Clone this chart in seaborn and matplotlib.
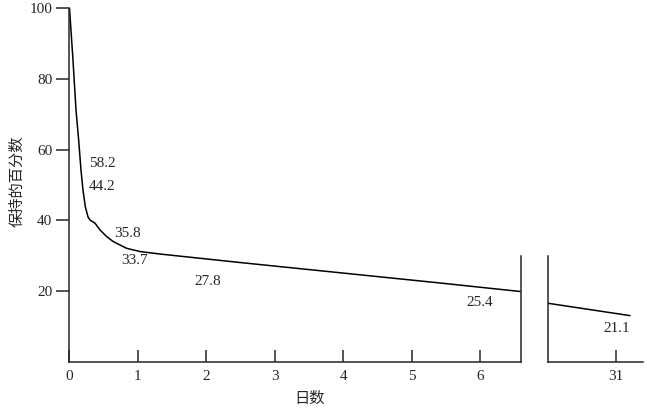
import matplotlib
matplotlib.use("Agg")
import matplotlib.pyplot as plt
import seaborn as sns

# ============================================================
# 数据
# ============================================================

# 第一段：0 ~ 6.6 天
days_a = [0, 0.051, 0.095, 0.134, 0.168, 0.197, 0.231, 0.27, 0.30, 0.373,
          0.446, 0.544, 0.64, 0.836, 1.03, 1.32, 2.49, 5.42, 6.59]
retain_a = [100, 85.3, 71.2, 62.7, 54.2, 48.6, 43.9, 41.0, 40.1, 39.2,
            37.3, 35.4, 34.0, 32.1, 31.2, 30.5, 28.1, 22.3, 19.9]

# 第二段：30 ~ 31.2 天
days_b = [30.0, 31.2]
retain_b = [16.6, 13.1]

# 标注文字及位置
labels_a = ["58.2", "44.2", "35.8", "33.7", "27.8", "25.4"]
label_x_a = [0.285, 0.285, 0.65, 0.75, 1.82, 5.80]
label_y_a = [56.2, 49.7, 36.4, 28.8, 22.7, 16.7]
labels_b = ["21.1"]
label_x_b = [30.81]
label_y_b = [9.6]

y_ticks = [20, 40, 60, 80, 100]
x_ticks_a = [0, 1, 2, 3, 4, 5, 6]
x_ticks_b = [31]

# ============================================================
# 样式
# ============================================================

sns.set_style("ticks")
plt.rcParams["font.family"] = ["Liberation Serif", "Noto Sans CJK SC"]
plt.rcParams["axes.linewidth"] = 1.1

fig = plt.figure(figsize=(6.47, 4.12), dpi=100)
ax1 = fig.add_axes([0.1074, 0.1214, 0.6974, 0.8592])
ax2 = fig.add_axes([0.8465, 0.1214, 0.1473, 0.8592])

line_kw = dict(color="black", linewidth=1.1, estimator=None)
sns.lineplot(x=days_a, y=retain_a, ax=ax1, **line_kw)
sns.lineplot(x=days_b, y=retain_b, ax=ax2, **line_kw)

# 左图
ax1.set_xlim(0, 6.59)
ax1.set_ylim(0, 100)
ax1.set_xticks(x_ticks_a)
ax1.set_yticks(y_ticks)
ax1.tick_params(axis="x", direction="in", length=8.6, width=1.1,
                labelsize=11, pad=6)
ax1.tick_params(axis="y", direction="out", length=9.4, width=1.1,
                labelsize=11, pad=3)
ax1.spines["top"].set_visible(False)
ax1.spines["right"].set_bounds(0, 30)
for t, x, y in zip(labels_a, label_x_a, label_y_a):
    ax1.text(x, y, t, ha="left", va="center", fontsize=11)

# 右图
ax2.set_xlim(30, 31.39)
ax2.set_ylim(0, 100)
ax2.set_xticks(x_ticks_b)
ax2.set_yticks([])
ax2.tick_params(axis="x", direction="in", length=8.6, width=1.1,
                labelsize=11, pad=6)
ax2.spines["top"].set_visible(False)
ax2.spines["right"].set_visible(False)
ax2.spines["left"].set_bounds(0, 30)
for t, x, y in zip(labels_b, label_x_b, label_y_b):
    ax2.text(x, y, t, ha="left", va="center", fontsize=11)

for ax in (ax1, ax2):
    ax.set_xlabel("")
    ax.set_ylabel("")

fig.text(17 / 647, 1 - 181 / 412, "保持的百分数", rotation=90,
         ha="center", va="center", fontsize=11, family="Noto Sans CJK SC")
fig.text(310 / 647, 1 - 398 / 412, "日数", ha="center", va="center",
         fontsize=11, family="Noto Sans CJK SC")

fig.savefig("out.png", dpi=100)
